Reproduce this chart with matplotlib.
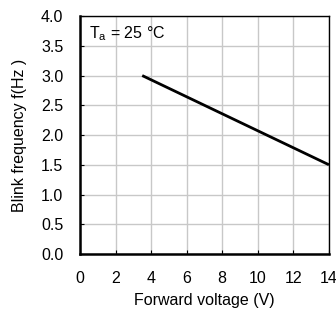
import numpy as np
import matplotlib.pyplot as plt

plt.rcParams['font.family'] = ['Liberation Sans', 'DejaVu Sans']

voltage = [3.5, 14.0]
frequency = [3.0, 1.5]
xticks = [0, 2, 4, 6, 8, 10, 12, 14]
yticks = [0.0, 0.5, 1.0, 1.5, 2.0, 2.5, 3.0, 3.5, 4.0]

fig = plt.figure(figsize=(3.36, 3.09), dpi=100)
ax = fig.add_axes([0.238, 0.178, 0.741, 0.77])
ax.plot(voltage, frequency, color='black', linewidth=2, solid_capstyle='butt')
ax.set_xlim(0, 14)
ax.set_ylim(0, 4)
ax.set_xticks(xticks)
ax.set_yticks(yticks)
ax.set_yticklabels([f"{v:.1f}" for v in yticks])
ax.grid(True, color='#c8c8c8', linewidth=1)
ax.set_axisbelow(True)
ax.tick_params(direction='in', length=3, labelsize=11.5)
ax.tick_params(axis='x', pad=12)
ax.tick_params(axis='y', pad=12)
for s in ['left', 'bottom']:
    ax.spines[s].set_linewidth(1.8)
for s in ['top', 'right']:
    ax.spines[s].set_linewidth(1.0)
ax.set_xlabel("Forward voltage (V)", fontsize=11.5, labelpad=5)
ax.set_ylabel("Blink frequency f(Hz )", fontsize=11.5, labelpad=10)
ax.text(0.5, 3.55, r"T$_\mathregular{a}$ = 25 °C", fontsize=11.5, va='bottom')
fig.savefig("out.png", dpi=100)
